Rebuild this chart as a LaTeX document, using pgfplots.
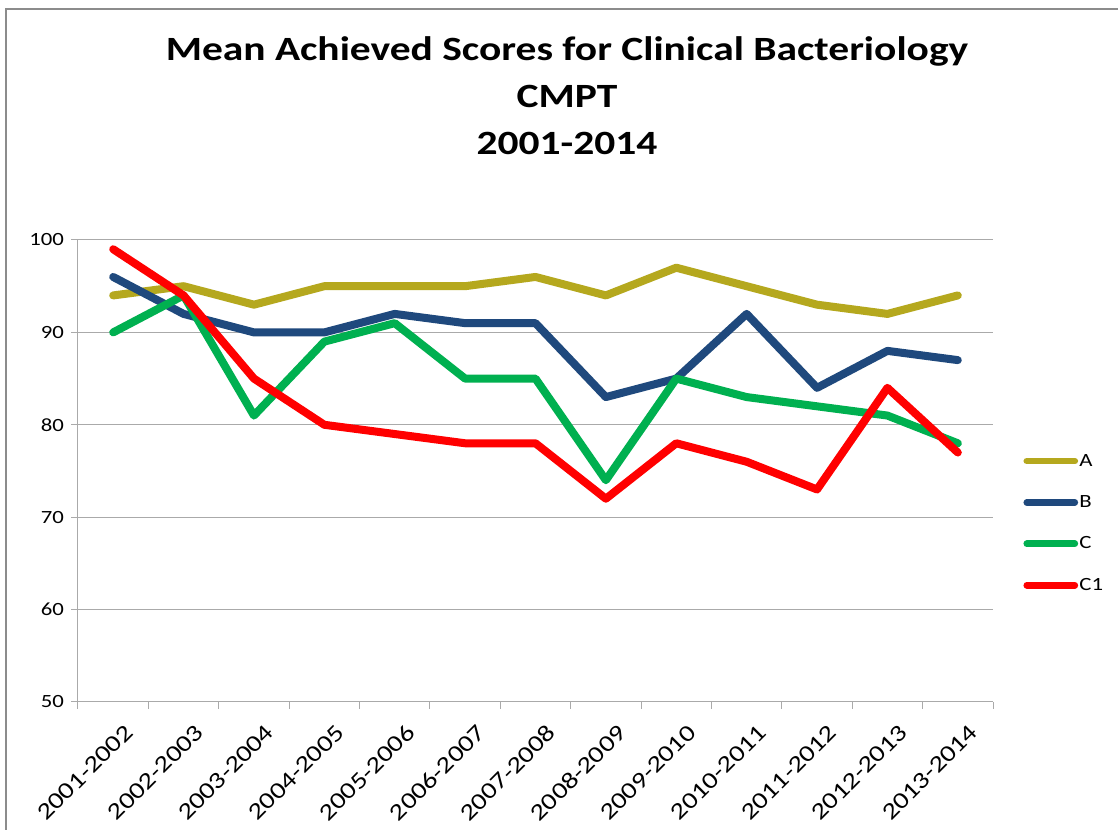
\documentclass[border=0pt]{standalone}
\usepackage{fontspec}
\setmainfont{Carlito}[FakeStretch=1.22]
\usepackage{pgfplots}
\pgfplotsset{compat=1.18}
\definecolor{cA}{RGB}{181,168,30}
\definecolor{cB}{RGB}{31,73,125}
\definecolor{cC}{RGB}{0,176,80}
\definecolor{cD}{RGB}{255,0,0}
\definecolor{gridc}{RGB}{170,170,170}
\begin{document}
\begin{tikzpicture}
\useasboundingbox (0,0) rectangle (838.5pt,622.5pt);
\fill[white] (0,0) rectangle (838.5pt,622.5pt);
\draw[gray!90, line width=1.5pt] (4.5pt,0) -- (4.5pt,615.75pt) -- (838.5pt,615.75pt);
\node[font=\fontsize{25.5}{30}\selectfont\bfseries] at (425.25pt,584pt) {Mean Achieved Scores for Clinical Bacteriology};
\node[font=\fontsize{25.5}{30}\selectfont\bfseries] at (425.25pt,550pt) {CMPT};
\node[font=\fontsize{25.5}{30}\selectfont\bfseries] at (425.25pt,515pt) {2001-2014};
\begin{axis}[
  at={(58.5pt,96pt)}, anchor=south west,
  scale only axis, width=686.25pt, height=346.5pt,
  xmin=-0.5, xmax=12.5, ymin=50, ymax=100,
  ytick={50,60,...,100},
  xtick={0,...,12},
  xticklabels={2001-2002,2002-2003,2003-2004,2004-2005,2005-2006,2006-2007,2007-2008,2008-2009,2009-2010,2010-2011,2011-2012,2012-2013,2013-2014},
  minor xtick={-0.5,0.5,...,12.5},
  major x tick style={draw=none},
  minor x tick style={draw=gridc, line width=0.75pt},
  major y tick style={draw=gridc, line width=0.75pt},
  tick align=outside,
  major tick length=5pt, minor tick length=5pt,
  axis lines*=left,
  axis line style={draw=gridc, line width=0.75pt},
  ymajorgrids,
  grid style={draw=gridc, line width=0.75pt},
  x tick label style={rotate=45, anchor=north east, font=\fontsize{17.5}{19}\selectfont, inner sep=1pt, xshift=-1pt, yshift=-12pt},
  y tick label style={font=\fontsize{14}{16}\selectfont, xshift=-2pt},
  /pgf/number format/assume math mode=true,
  legend style={at={(1.033,0.387)}, anchor=west, draw=none, fill=none,
    font=\fontsize{14}{16}\selectfont, row sep=18.5pt, inner sep=0pt,
    nodes={inner sep=1pt, anchor=west}},
  legend cell align=left,
  legend image code/.code={\draw[#1, line width=5pt, line cap=round] (0pt,0pt) -- (36pt,0pt);},
  clip=false,
]
\addplot[cA, line width=6pt, line cap=round, line join=round] coordinates {(0,94)(1,95)(2,93)(3,95)(4,95)(5,95)(6,96)(7,94)(8,97)(9,95)(10,93)(11,92)(12,94)};
\addlegendentry{A}
\addplot[cB, line width=6pt, line cap=round, line join=round] coordinates {(0,96)(1,92)(2,90)(3,90)(4,92)(5,91)(6,91)(7,83)(8,85)(9,92)(10,84)(11,88)(12,87)};
\addlegendentry{B}
\addplot[cC, line width=6pt, line cap=round, line join=round] coordinates {(0,90)(1,94)(2,81)(3,89)(4,91)(5,85)(6,85)(7,74)(8,85)(9,83)(10,82)(11,81)(12,78)};
\addlegendentry{C}
\addplot[cD, line width=6pt, line cap=round, line join=round] coordinates {(0,99)(1,94)(2,85)(3,80)(4,79)(5,78)(6,78)(7,72)(8,78)(9,76)(10,73)(11,84)(12,77)};
\addlegendentry{C1}
\end{axis}
\end{tikzpicture}
\end{document}
